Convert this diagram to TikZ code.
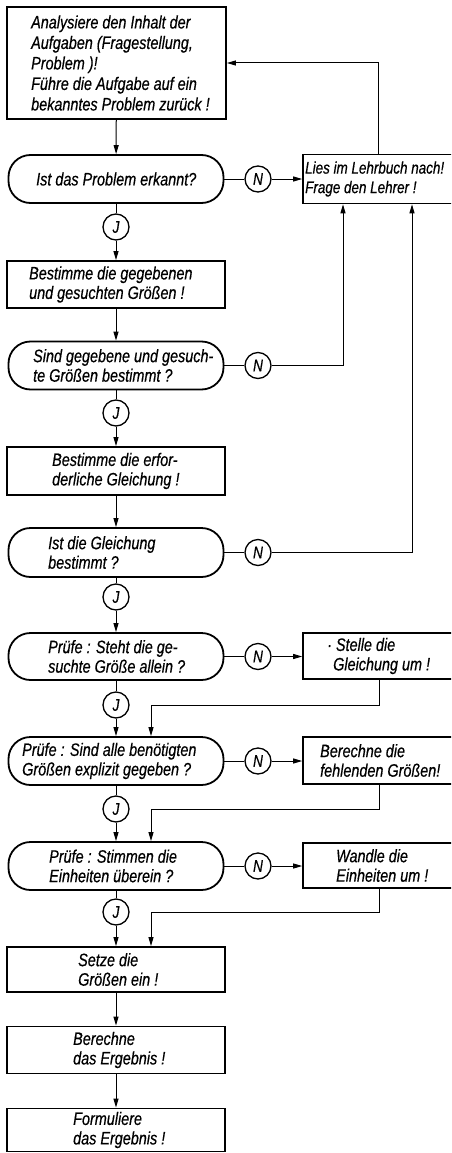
\documentclass[tikz,border=0pt]{standalone}
\usepackage{fontspec}
\setmainfont{Liberation Sans}[FakeStretch=0.8,FakeBold=0.5]
\usetikzlibrary{arrows.meta}
\begin{document}
\begin{tikzpicture}[x=1pt,y=-1pt,
 box/.style={draw,line width=1.8pt,minimum width=218pt,minimum height=47pt,inner sep=0},
 dec/.style={draw,line width=1.8pt,rounded corners=22pt,minimum width=215pt,minimum height=48pt,inner sep=0},
 side/.style={draw,line width=1.6pt,minimum width=170pt,minimum height=47pt,inner sep=0},
 yn/.style={circle,draw,line width=1.3pt,minimum size=26pt,inner sep=0,font=\itshape\fontsize{17}{17}\selectfont},
 txt/.style={anchor=west,align=left,inner sep=0,font=\itshape\fontsize{18}{19.5}\selectfont},
 ln/.style={line width=1pt},
 arr/.style={line width=1pt,-{Triangle[length=9pt,width=5pt]}}]
\useasboundingbox (0,0) rectangle (451,1153);
\clip (0,0) rectangle (451,1153);
\coordinate (xa) at (378,0);
\coordinate (xb) at (343,0);
\coordinate (xc) at (412,0);
\coordinate (xr) at (379,0);
\coordinate (xm) at (151,0);
% shapes
\node[box,minimum width=219pt,minimum height=112pt] (A) at (116.5,63) {};
\node[dec] (D1) at (116,179) {};
\node[yn] (N1) at (258,179) {N};
\node[side,minimum height=49pt] (L) at (388,179) {};
\node[yn] (J1) at (116,227) {J};
\node[box] (B2) at (116,284.5) {};
\node[dec] (D2) at (116,365.5) {};
\node[yn] (N2) at (258,365.5) {N};
\node[yn] (J2) at (116,413) {J};
\node[box,minimum height=48pt] (B3) at (116,471) {};
\node[dec,minimum height=49pt] (D3) at (116,552.5) {};
\node[yn] (N3) at (258,552.5) {N};
\node[yn] (J3) at (116,597) {J};
\node[dec,minimum height=47pt] (D4) at (116,656.5) {};
\node[yn] (N4) at (258,656.5) {N};
\node[side,minimum height=46pt] (S4) at (388,656) {};
\node[yn] (J4) at (116,705) {J};
\node[dec] (D5) at (116,761) {};
\node[yn] (N5) at (258,761) {N};
\node[side] (S5) at (388,760.5) {};
\node[yn] (J5) at (116,809) {J};
\node[dec] (D6) at (116,866) {};
\node[yn] (N6) at (258,866) {N};
\node[side,minimum height=45pt] (S6) at (388,865.5) {};
\node[yn] (J6) at (116,912) {J};
\node[box,minimum height=45pt] (B7) at (116,969.5) {};
\node[box] (B8) at (116,1050) {};
\node[box,minimum height=43pt] (B9) at (116,1130) {};
% texts
\node[txt,font=\itshape\fontsize{18}{20.5}\selectfont] (tA) at (31,63) {Analysiere den Inhalt der\\Aufgaben (Fragestellung,\\Problem )!\\Führe die Aufgabe auf ein\\bekanntes Problem zurück !};
\node[txt] (tD1) at (36,179) {Ist das Problem erkannt?};
\node[txt,font=\itshape\fontsize{16.8}{19.5}\selectfont] (tL) at (305,179) {Lies im Lehrbuch nach!\\Frage den Lehrer !};
\node[txt] (tB2) at (29,284.5) {Bestimme die gegebenen\\und gesuchten Größen !};
\node[txt] (tD2) at (33,365.5) {Sind gegebene und gesuch-\\te Größen bestimmt ?};
\node[txt] (tB3) at (52,471) {Bestimme die erfor-\\derliche Gleichung !};
\node[txt] (tD3) at (48,552.5) {Ist die Gleichung\\bestimmt ?};
\node[txt] (tD4) at (48,656.5) {Prüfe : Steht die ge-\\suchte Größe allein ?};
\node[txt] (tS4) at (327,656) {· Stelle die\\\hspace*{6pt}Gleichung um !};
\node[txt] (tD5) at (22,761) {Prüfe : Sind alle benötigten\\Größen explizit gegeben ?};
\node[txt] (tS5) at (320,760.5) {Berechne die\\fehlenden Größen!};
\node[txt] (tD6) at (49,866) {Prüfe : Stimmen die\\Einheiten überein ?};
\node[txt] (tS6) at (336,865.5) {Wandle die\\Einheiten um !};
\node[txt] (tB7) at (78,969.5) {Setze die\\Größen ein !};
\node[txt] (tB8) at (73,1050) {Berechne\\das Ergebnis !};
\node[txt] (tB9) at (73,1130) {Formuliere\\das Ergebnis !};
% connectors
\draw[arr] (A) -- (D1);
\draw[ln] (D1) -- (N1);
\draw[arr] (N1.east) -- (N1.east -| L.west);
\draw[arr] (xa |- L.north) |- (A.east);
\draw[ln] (D1) -- (J1);
\draw[arr] (J1) -- (B2);
\draw[arr] (B2) -- (D2);
\draw[ln] (D2) -- (N2);
\draw[arr] (N2.east) -| (xb |- L.south);
\draw[ln] (D2) -- (J2);
\draw[arr] (J2) -- (B3);
\draw[arr] (B3) -- (D3);
\draw[ln] (D3) -- (N3);
\draw[arr] (N3.east) -| (xc |- L.south);
\draw[ln] (D3) -- (J3);
\draw[arr] (J3) -- (D4);
\draw[ln] (D4) -- (N4);
\draw[arr] (N4.east) -- (N4.east -| S4.west);
\draw[ln] (D4) -- (J4);
\draw[arr] (J4) -- (D5);
\draw[arr] (xr |- S4.south) |- (xm |- J4) -- (xm |- D5.north);
\draw[ln] (D5) -- (N5);
\draw[arr] (N5.east) -- (N5.east -| S5.west);
\draw[ln] (D5) -- (J5);
\draw[arr] (J5) -- (D6);
\draw[arr] (xr |- S5.south) |- (xm |- J5) -- (xm |- D6.north);
\draw[ln] (D6) -- (N6);
\draw[arr] (N6.east) -- (N6.east -| S6.west);
\draw[ln] (D6) -- (J6);
\draw[arr] (J6) -- (B7);
\draw[arr] (xr |- S6.south) |- (xm |- J6) -- (xm |- B7.north);
\draw[arr] (B7) -- (B8);
\draw[arr] (B8) -- (B9);
\end{tikzpicture}
\end{document}
